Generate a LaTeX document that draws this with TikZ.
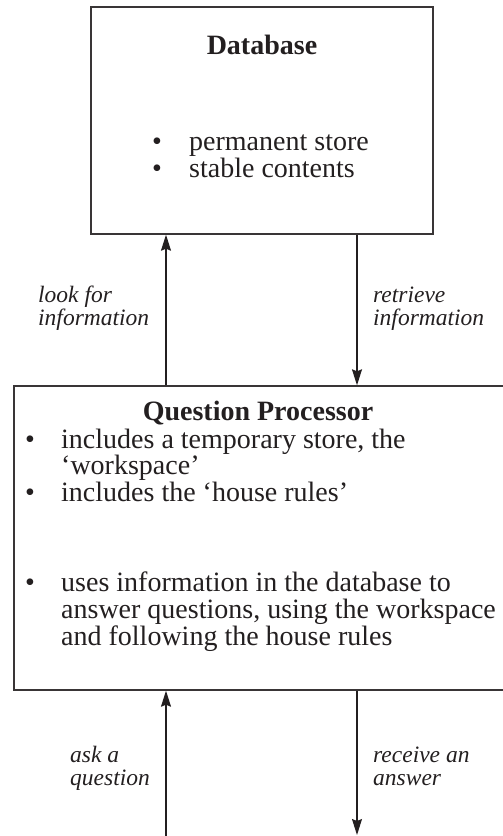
\documentclass[tikz,border=0pt]{standalone}
\usepackage{fontspec}
\setmainfont{Liberation Serif}
\usetikzlibrary{arrows.meta}

\definecolor{ink}{HTML}{231F20}

\newcommand{\bulletat}[1]{\makebox[#1][l]{•}}

\tikzset{
  box/.style={draw=ink!90, line width=1.4pt, rectangle, inner sep=0pt},
  arr/.style={draw=ink, line width=1.1pt,
    -{Stealth[length=16pt, width=10pt, inset=2pt]}},
  % multi-line nodes: the base anchor is the baseline of the last line
  itemlist/.style={anchor=base west, inner sep=0pt, text=ink, align=left,
    font=\fontsize{28}{25}\selectfont},
  itemlistwide/.style={itemlist, font=\fontsize{28}{27}\selectfont},
  title/.style={anchor=base, inner sep=0pt, text=ink,
    font=\fontsize{28}{28}\selectfont\bfseries},
  flowlabel/.style={anchor=base west, inner sep=0pt, text=ink, align=left,
    font=\fontsize{23.5}{23.5}\selectfont\itshape},
}

\begin{document}
\begin{tikzpicture}[x=1pt, y=-1pt]
  \useasboundingbox (0,0) rectangle (503,836);

  % the two boxes
  \node[box, minimum width=342pt, minimum height=227pt] (db) at (262,120.5) {};
  \node[box, minimum width=492pt, minimum height=304pt] (qp) at (260,538) {};

  % Database contents
  \node[title] (dbtitle) at (262,54) {Database};
  \node[itemlist] (dbitems) at (152,177)
    {\bulletat{37pt}permanent store\\\bulletat{37pt}stable contents};

  % Question Processor contents
  \node[title] (qptitle) at (258,420) {Question Processor};
  \node[itemlist] (qpstores) at (25,501)
    {\bulletat{36pt}includes a temporary store, the\\
     \hspace*{36pt}‘workspace’\\
     \bulletat{36pt}includes the ‘house rules’};
  \node[itemlistwide] (qpuses) at (25,645)
    {\bulletat{36pt}uses information in the database to\\
     \hspace*{36pt}answer questions, using the workspace\\
     \hspace*{36pt}and following the house rules};

  % connector columns and free ends
  \coordinate (upcol) at (166,0);
  \coordinate (downcol) at (357,0);
  \coordinate (askfrom) at (166,836);
  \coordinate (answerto) at (357,835);

  % arrows between the boxes
  \draw[arr] (upcol |- qp.north) -- (upcol |- db.south);
  \draw[arr] (downcol |- db.south) -- (downcol |- qp.north);

  % arrows into and out of the question processor
  \draw[arr] (askfrom) -- (askfrom |- qp.south);
  \draw[arr] (downcol |- qp.south) -- (answerto);

  % connector labels
  \node[flowlabel] (lookfor) at (38,325.5) {look for\\information};
  \node[flowlabel] (retrieve) at (373,325.5) {retrieve\\information};
  \node[flowlabel] (ask) at (70,785.5) {ask a\\question};
  \node[flowlabel] (receive) at (373,785.5) {receive an\\answer};
\end{tikzpicture}
\end{document}
